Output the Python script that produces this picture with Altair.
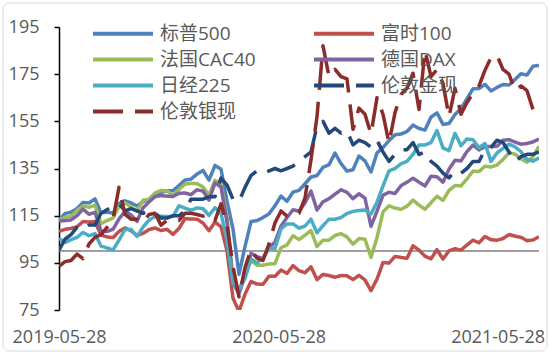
import altair as alt
import pandas as pd

# sampling grid: every 10 days from 2019-05-28 to 2021-08-05
dates = pd.date_range("2019-05-28", periods=81, freq="10D").strftime("%Y-%m-%d").tolist()

names = ["标普500", "富时100", "法国CAC40", "德国DAX", "日经225", "伦敦金现", "伦敦银现"]
colors = ["#4F81BD", "#C0504D", "#9BBB59", "#8064A2", "#4BACC6", "#23497A", "#8A2C29"]
dashes = [[1, 0], [1, 0], [1, 0], [1, 0], [1, 0], [30, 12], [30, 12]]

spx = [113.0, 115.9, 116.5, 118.0, 120.6, 120.4, 122.1, 116.2, 116.5, 116.1,
       120.1, 121.3, 120.4, 119.1, 120.9, 121.9, 124.2, 124.9, 125.5, 125.6,
       127.8, 130.1, 130.5, 132.6, 134.2, 130.1, 136.3, 134.7, 121.1, 109.4,
       90.2, 101.9, 112.5, 112.9, 114.2, 115.8, 119.2, 123.3, 121.1, 125.0,
       125.7, 128.5, 131.4, 132.0, 135.5, 136.6, 141.5, 137.1, 133.9, 134.5,
       140.3, 138.2, 133.5, 141.6, 143.9, 146.8, 149.3, 149.6, 150.7, 153.4,
       152.0, 151.3, 156.8, 158.6, 153.7, 154.1, 157.9, 160.4, 164.6, 168.8,
       168.9, 170.7, 167.9, 169.4, 170.6, 170.4, 172.7, 175.2, 174.6, 178.4,
       178.7]
ftse = [108.3, 109.2, 109.6, 110.3, 112.5, 112.3, 112.5, 106.8, 106.0, 105.7,
        108.3, 109.8, 108.6, 106.6, 107.5, 109.1, 109.8, 108.7, 109.2, 107.1,
        109.6, 113.7, 113.6, 113.5, 111.9, 108.6, 112.3, 110.3, 100.1, 80.0,
        74.4, 81.7, 87.1, 86.0, 85.9, 89.3, 89.3, 91.9, 90.5, 93.8,
        91.7, 90.8, 93.3, 87.9, 90.1, 89.6, 88.9, 89.6, 89.5, 87.9,
        89.7, 87.7, 83.2, 88.1, 95.1, 94.9, 97.7, 97.3, 96.9, 102.2,
        100.4, 97.8, 96.7, 100.6, 96.6, 100.1, 101.0, 100.4, 102.6, 104.6,
        103.5, 106.2, 104.8, 104.6, 105.3, 107.0, 106.3, 105.8, 104.4, 104.7,
        106.1]
cac = [113.1, 114.3, 114.8, 117.2, 119.2, 118.5, 119.5, 111.6, 112.9, 114.0,
       118.9, 120.5, 118.6, 116.9, 121.5, 121.9, 124.6, 125.7, 125.5, 123.6,
       126.1, 128.4, 128.7, 128.6, 127.2, 123.7, 130.0, 128.4, 114.9, 87.7,
       83.4, 89.9, 96.0, 94.0, 94.0, 94.5, 94.7, 101.4, 102.6, 106.5,
       104.9, 106.7, 108.7, 101.9, 104.6, 104.6, 106.6, 107.4, 106.0, 102.9,
       105.3, 105.0, 97.3, 105.7, 116.6, 119.2, 118.2, 117.7, 119.0, 121.6,
       119.5, 117.7, 120.5, 123.2, 121.5, 125.7, 127.8, 127.6, 130.6, 133.9,
       133.7, 136.0, 135.6, 136.5, 138.8, 141.7, 141.1, 139.1, 137.6, 140.1,
       144.4]
dax = [112.7, 112.9, 113.2, 115.0, 117.8, 115.6, 116.4, 108.4, 108.3, 109.2,
       113.6, 116.8, 115.3, 112.6, 118.3, 120.8, 123.1, 123.5, 123.3, 123.1,
       124.5, 124.6, 123.9, 126.0, 125.4, 121.6, 128.8, 127.2, 112.3, 86.5,
       81.9, 89.7, 99.0, 97.6, 96.8, 101.4, 103.8, 110.6, 114.2, 117.5,
       116.9, 120.4, 125.4, 117.4, 120.9, 122.2, 124.1, 126.0, 124.9, 122.2,
       124.3, 122.4, 110.5, 116.9, 123.7, 124.9, 124.4, 127.7, 129.2, 130.9,
       129.2, 127.6, 131.7, 131.5, 129.2, 134.7, 138.5, 138.2, 142.2, 144.9,
       142.9, 144.3, 144.3, 144.4, 147.0, 147.2, 146.2, 145.3, 145.6, 146.3,
       147.5]
nikkei = [105.4, 103.6, 104.8, 105.8, 107.9, 106.5, 107.4, 102.1, 101.3, 100.5,
          104.6, 109.1, 109.2, 106.2, 110.1, 113.1, 114.6, 114.8, 114.6, 114.7,
          119.2, 118.2, 117.3, 118.3, 118.0, 115.1, 118.4, 116.0, 104.6, 86.5,
          83.8, 88.4, 96.7, 94.9, 97.3, 101.0, 101.1, 109.4, 111.5, 111.5,
          109.7, 110.6, 113.5, 107.7, 110.8, 113.5, 113.5, 114.2, 115.9, 116.8,
          117.2, 117.4, 115.7, 120.7, 127.6, 134.0, 135.0, 137.0, 138.0, 141.0,
          145.0, 145.0, 146.0, 151.1, 143.7, 142.6, 149.9, 144.7, 147.5, 147.2,
          143.8, 145.6, 138.0, 141.6, 143.5, 145.3, 144.2, 142.1, 138.9, 138.1,
          139.5]
gold = [100.4, 105.0, 107.0, 110.0, 109.0, 111.0, 111.0, 116.0, 117.5, 119.0,
        120.0, 117.0, 118.0, 117.0, 116.0, 117.0, 116.0, 114.0, 114.0, 115.0,
        115.0, 117.0, 122.0, 122.0, 122.0, 123.0, 123.0, 131.0, 128.0, 122.0,
        121.0, 127.0, 132.0, 134.0, 133.0, 134.0, 135.0, 134.0, 135.0, 136.0,
        138.0, 140.0, 142.0, 153.0, 155.0, 150.0, 152.0, 150.0, 151.0, 145.0,
        147.0, 146.0, 144.0, 147.0, 142.0, 138.0, 141.0, 143.0, 143.0, 146.0,
        141.0, 142.0, 138.0, 136.0, 133.0, 131.0, 134.0, 133.0, 135.0, 138.0,
        138.0, 143.0, 144.0, 147.0, 146.0, 142.0, 138.0, 140.0, 141.0, 141.0,
        142.0]
silver = [93.5, 95.5, 96.0, 98.7, 96.8, 103.0, 105.8, 107.0, 110.0, 113.5,
          127.0, 115.5, 113.5, 113.5, 112.0, 115.5, 116.0, 111.0, 113.0, 113.0,
          113.0, 116.0, 116.0, 115.5, 114.8, 115.5, 113.0, 120.0, 111.0, 93.5,
          80.6, 93.0, 100.6, 97.0, 96.0, 103.0, 112.0, 117.0, 114.8, 114.8,
          116.0, 122.5, 138.7, 157.0, 187.0, 174.0, 177.0, 174.0, 173.0, 151.6,
          160.6, 158.0, 149.6, 165.0, 158.0, 145.8, 158.7, 166.4, 169.0, 175.4,
          160.0, 185.0, 174.0, 177.0, 171.0, 157.0, 169.0, 158.0, 163.0, 167.0,
          170.0, 176.7, 182.0, 183.0, 177.0, 175.0, 168.0, 170.0, 168.0, 160.0,
          164.0]

series = [spx, ftse, cac, dax, nikkei, gold, silver]
y_ticks = [75, 95, 115, 135, 155, 175, 195]
x_labels = ["2019-05-28", "2020-05-28", "2021-05-28"]
baseline_value = 100

rows = []
for name, vals in zip(names, series):
    for d, v in zip(dates, vals):
        rows.append({"date": d, "value": v, "series": name})
df = pd.DataFrame(rows)
base_df = pd.DataFrame({"date": [dates[0], dates[-1]], "value": [baseline_value] * 2})


def dt(s):
    y, m, d = (int(p) for p in s.split("-"))
    return alt.DateTime(year=y, month=m, date=d, utc=True)


FONT = "Open Sans, Noto Sans CJK SC"
GREY = "#595959"

x_enc = alt.X(
    "date:T",
    scale=alt.Scale(type="utc", domain=[dt(dates[0]), dt(dates[-1])]),
    axis=alt.Axis(
        values=[dt(s) for s in x_labels], format="%Y-%m-%d", title=None,
        domain=False, ticks=False, grid=False, labelFlush=False,
        labelFontSize=18, labelFont=FONT, labelColor=GREY, labelPadding=18,
    ),
)
y_enc = alt.Y(
    "value:Q",
    scale=alt.Scale(domain=[75, 195], nice=False, zero=False),
    axis=alt.Axis(
        values=y_ticks, title=None, grid=False,
        domainColor="#000000", domainWidth=1.5, tickColor="#000000",
        tickWidth=1.5, tickSize=5, labelFontSize=18, labelFont=FONT,
        labelColor=GREY, labelPadding=15,
    ),
)

legend = alt.Legend(
    title=None, orient="none", legendX=32, legendY=-3, columns=2,
    direction="horizontal",
    symbolType="stroke", symbolSize=3600, symbolStrokeWidth=4,
    clipHeight=19, rowPadding=6, columnPadding=56, labelOffset=5,
    labelFontSize=19, labelFont=FONT, labelColor=GREY, labelLimit=300,
    padding=0,
)

border = alt.Chart(pd.DataFrame({"k": [0]})).mark_rect(
    fill="transparent", stroke="#D9D9D9", strokeWidth=1, cornerRadius=6
).encode(
    x=alt.value(-56), x2=alt.value(488), y=alt.value(-24), y2=alt.value(324)
)

base_line = alt.Chart(base_df).mark_line(color="#808080", strokeWidth=1.5).encode(
    x=x_enc, y=y_enc
)

lines = alt.Chart(df).mark_line(strokeWidth=3.5, strokeJoin="round", clip=True).encode(
    x=x_enc,
    y=y_enc,
    color=alt.Color("series:N", sort=names,
                    scale=alt.Scale(domain=names, range=colors), legend=legend),
    strokeDash=alt.StrokeDash("series:N", sort=names,
                              scale=alt.Scale(domain=names, range=dashes), legend=legend),
)

chart = alt.layer(border, base_line, lines).properties(
    width=480, height=283,
    padding={"left": 59, "top": 27, "right": 11, "bottom": 46},
    autosize=alt.AutoSizeParams(type="none"),
    background="#FFFFFF",
).configure_view(stroke="transparent")

chart.save("out.html", embed_options={"renderer": "svg", "actions": False})
